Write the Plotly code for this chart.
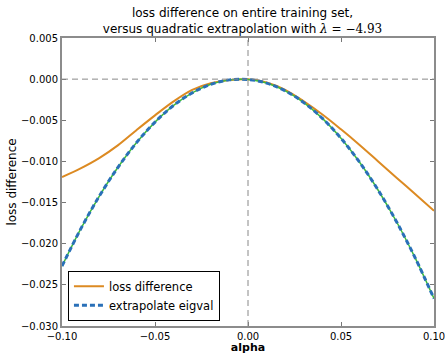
import plotly.graph_objects as go

alpha = [-0.10, -0.09, -0.08, -0.07, -0.06, -0.05, -0.04, -0.03, -0.02, -0.01,
         0.00, 0.01, 0.02, 0.03, 0.04, 0.05, 0.06, 0.07, 0.08, 0.09, 0.10]
loss_diff = [-0.0119, -0.01085, -0.0096, -0.00805, -0.0062, -0.0044, -0.0027,
             -0.0013, -0.0005, -0.0001, -0.00002, -0.0004, -0.0013, -0.0027,
             -0.0043, -0.0061, -0.0080, -0.0100, -0.0120, -0.0140, -0.0160]
extrap = [-0.02272, -0.01823, -0.01424, -0.01074, -0.00773, -0.00522, -0.00319,
          -0.00167, -0.00063, -0.00009, -0.00004, -0.00048, -0.00142, -0.00285,
          -0.00477, -0.00719, -0.01010, -0.01350, -0.01739, -0.02178, -0.02666]

x_ticks = [-0.10, -0.05, 0.00, 0.05, 0.10]
y_ticks = [0.005, 0.000, -0.005, -0.010, -0.015, -0.020, -0.025, -0.030]

fig = go.Figure()
fig.add_hline(y=0, line=dict(color="#888888", width=1, dash="6px,4px"))
fig.add_vline(x=0, line=dict(color="#888888", width=1, dash="6px,4px"))
fig.add_trace(go.Scatter(x=alpha, y=loss_diff, mode="lines", name="loss difference",
                         line=dict(color="#dc8a22", width=2, shape="spline", smoothing=1.0)))
fig.add_trace(go.Scatter(x=alpha, y=extrap, mode="lines", showlegend=False,
                         line=dict(color="#3dbb3d", width=1.5, shape="spline")))
fig.add_trace(go.Scatter(x=alpha, y=extrap, mode="lines", name="extrapolate eigval",
                         line=dict(color="#2a70b8", width=3, dash="5px,3px", shape="spline")))

axis_common = dict(showgrid=False, zeroline=False, showline=True, linecolor="#8c8c8c",
                   linewidth=2, mirror="ticks", ticks="inside", ticklen=4, tickwidth=1,
                   tickcolor="#777777", automargin=False, ticklabeloverflow="allow",
                   tickfont=dict(family="DejaVu Sans", size=10, color="black"))
fig.update_xaxes(range=[-0.10, 0.10], tickvals=x_ticks, tickformat=".2f",
                 title=dict(text="<b>alpha</b>", font=dict(family="DejaVu Sans", size=11, color="black"),
                            standoff=1), **axis_common)
fig.update_yaxes(range=[-0.030, 0.005], tickvals=y_ticks, tickformat=".3f",
                 title=dict(text="loss difference", font=dict(family="DejaVu Sans", size=12, color="black"),
                            standoff=2), **axis_common)

fig.update_layout(
    width=445, height=354,
    margin=dict(l=62, r=11, t=38, b=28),
    paper_bgcolor="white", plot_bgcolor="white",
    title=dict(text="loss difference on entire training set,<br>versus quadratic extrapolation with "
                    "<span style='font-family:DejaVu Serif'><i>λ</i> = −4.93</span>",
               x=0.545, xanchor="center", yref="container", y=0.952, yanchor="bottom",
               font=dict(family="DejaVu Sans", size=12, color="black")),
    legend=dict(x=0.016, y=0.018, xanchor="left", yanchor="bottom",
                bordercolor="black", borderwidth=1, bgcolor="white",
                font=dict(family="DejaVu Sans", size=11.5, color="black"),
                itemwidth=30, tracegroupgap=0),
    showlegend=True,
)
fig.write_html("out.html")
